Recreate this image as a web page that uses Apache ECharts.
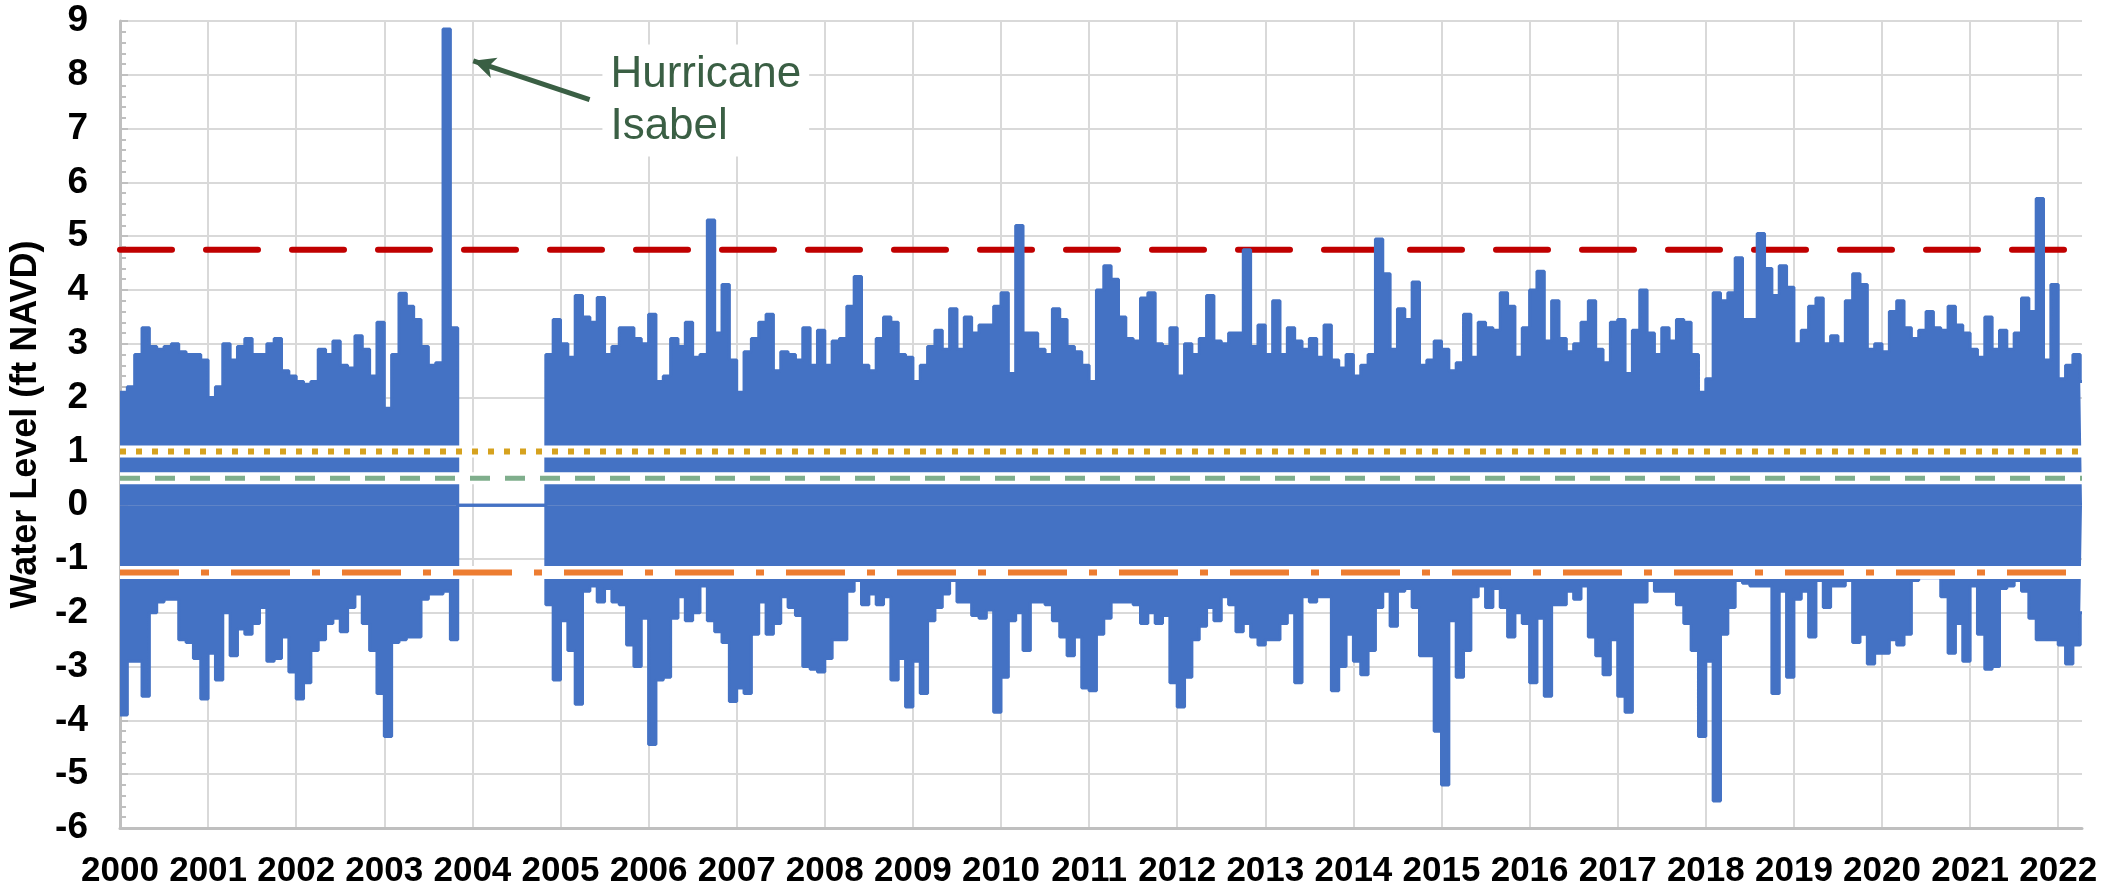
<!DOCTYPE html>
<html>
<head>
<meta charset="utf-8">
<title>Water Level</title>
<script src="https://cdn.jsdelivr.net/npm/echarts@6/dist/echarts.min.js"></script>
<style>
    html, body { margin: 0; padding: 0; background: #fff; }
    #chart { width: 2105px; height: 890px; }
</style>
</head>
<body>
<div id="chart"></div>
<script>
// monthly envelope of the record, Jan 2000 .. Apr 2022 (ft NAVD); 0 = no record (Nov 2003 - Oct 2004)
var startYear = 2000;
var dataEnd = 2022.27;
var yearLabels = [2000, 2001, 2002, 2003, 2004, 2005, 2006, 2007, 2008, 2009, 2010, 2011,
    2012, 2013, 2014, 2015, 2016, 2017, 2018, 2019, 2020, 2021, 2022];

var highLevels = [
    2.1, 2.2, 2.8, 3.3, 2.95, 2.9, 2.95, 3.0, 2.85, 2.8, 2.8, 2.7,      // 2000
    2.0, 2.2, 3.0, 2.7, 2.95, 3.1, 2.8, 2.8, 3.0, 3.1, 2.5, 2.4,        // 2001
    2.3, 2.25, 2.3, 2.9, 2.8, 3.05, 2.6, 2.55, 3.15, 2.9, 2.4, 3.4,     // 2002
    1.8, 2.8, 3.94, 3.7, 3.45, 2.95, 2.6, 2.65, 8.85, 3.3, 0, 0,        // 2003
    0, 0, 0, 0, 0, 0, 0, 0, 0, 0, 2.8, 3.45,                            // 2004
    3.0, 2.75, 3.9, 3.5, 3.4, 3.86, 2.8, 2.95, 3.3, 3.3, 3.1, 3.0,      // 2005
    3.55, 2.3, 2.4, 3.1, 2.95, 3.4, 2.75, 2.8, 5.3, 3.2, 4.1, 2.7,      // 2006
    2.1, 2.85, 3.1, 3.4, 3.55, 2.5, 2.85, 2.8, 2.7, 3.3, 2.6, 3.25,     // 2007
    2.6, 3.05, 3.1, 3.7, 4.25, 2.6, 2.5, 3.1, 3.5, 3.4, 2.8, 2.75,      // 2008
    2.3, 2.6, 2.95, 3.25, 2.9, 3.65, 2.9, 3.5, 3.2, 3.35, 3.35, 3.7,    // 2009
    3.95, 2.45, 5.2, 3.2, 3.2, 2.9, 2.8, 3.65, 3.45, 2.95, 2.85, 2.6,   // 2010
    2.3, 4.0, 4.45, 4.2, 3.5, 3.1, 3.05, 3.85, 3.95, 3.0, 2.95, 3.3,    // 2011
    2.4, 3.0, 2.8, 3.1, 3.9, 3.05, 3.0, 3.2, 3.2, 4.75, 2.95, 3.35,     // 2012
    2.8, 3.8, 2.8, 3.3, 3.05, 2.9, 3.1, 2.75, 3.35, 2.7, 2.55, 2.8,     // 2013
    2.4, 2.6, 2.8, 4.95, 4.3, 2.9, 3.65, 3.45, 4.15, 2.6, 2.7, 3.05,    // 2014
    2.9, 2.5, 2.65, 3.55, 2.75, 3.4, 3.3, 3.25, 3.95, 3.7, 2.75, 3.3,   // 2015
    4.0, 4.35, 3.05, 3.8, 3.1, 2.85, 3.0, 3.4, 3.8, 2.9, 2.65, 3.4,     // 2016
    3.45, 2.45, 3.25, 4.0, 3.2, 2.8, 3.3, 3.05, 3.45, 3.4, 2.8, 2.1,    // 2017
    2.35, 3.95, 3.8, 3.95, 4.6, 3.45, 3.45, 5.05, 4.4, 3.9, 4.45, 4.05, // 2018
    3.0, 3.25, 3.7, 3.85, 3.0, 3.15, 3.0, 3.8, 4.3, 4.1, 2.9, 3.0,      // 2019
    2.85, 3.6, 3.8, 3.3, 3.1, 3.25, 3.6, 3.3, 3.25, 3.7, 3.35, 3.2,     // 2020
    2.9, 2.75, 3.5, 2.9, 3.25, 2.9, 3.2, 3.85, 3.6, 5.7, 2.7, 4.1,      // 2021
    2.35, 2.6, 2.8, 2.3                                                 // 2022
];

var lowLevels = [
    -3.9, -2.9, -2.9, -3.55, -2.0, -1.8, -1.75, -1.75, -2.5, -2.55, -2.85, -3.6,   // 2000
    -2.75, -3.25, -2.0, -2.8, -2.3, -2.4, -2.2, -1.9, -2.9, -2.85, -2.45, -3.1,    // 2001
    -3.6, -3.3, -2.7, -2.5, -2.2, -2.1, -2.35, -1.9, -1.65, -2.2, -2.7, -3.5,      // 2002
    -4.3, -2.55, -2.5, -2.45, -2.45, -1.75, -1.65, -1.65, -1.6, -2.5, 0, 0,        // 2003
    0, 0, 0, 0, 0, 0, 0, 0, 0, 0, -1.85, -3.25,                                    // 2004
    -2.15, -2.7, -3.7, -1.6, -1.5, -1.8, -1.55, -1.8, -1.85, -2.6, -3.0, -2.1,     // 2005
    -4.45, -3.25, -3.2, -2.1, -1.7, -2.15, -2.0, -1.5, -2.15, -2.35, -2.55, -3.65, // 2006
    -3.4, -3.5, -2.4, -1.8, -2.4, -2.2, -1.7, -1.9, -2.05, -3.0, -3.05, -3.1,      // 2007
    -2.85, -2.5, -2.5, -1.6, -1.4, -1.85, -1.65, -1.85, -1.7, -3.25, -2.85, -3.75, // 2008
    -2.9, -3.5, -2.15, -1.9, -1.65, -1.4, -1.8, -1.8, -2.05, -2.1, -1.95, -3.85,   // 2009
    -3.2, -2.15, -2.0, -2.7, -1.8, -1.8, -1.85, -2.15, -2.45, -2.8, -2.45, -3.4,   // 2010
    -3.45, -2.4, -2.1, -1.8, -1.8, -1.8, -1.85, -2.2, -2.0, -2.2, -2.05, -3.3,     // 2011
    -3.75, -3.2, -2.5, -2.25, -1.9, -2.15, -1.7, -1.85, -2.35, -2.2, -2.45, -2.6,  // 2012
    -2.5, -2.5, -2.2, -2.0, -3.3, -1.7, -1.8, -1.7, -1.7, -3.45, -3.0, -2.4,       // 2013
    -2.9, -3.15, -2.7, -1.9, -1.6, -2.25, -1.6, -1.55, -1.9, -2.8, -2.8, -4.2,     // 2014
    -5.2, -2.15, -3.2, -2.7, -1.7, -1.5, -1.9, -1.55, -1.9, -2.45, -2.0, -2.2,     // 2015
    -3.3, -2.1, -3.55, -1.85, -1.85, -1.6, -1.75, -1.5, -2.45, -2.8, -3.15, -2.5,  // 2016
    -3.55, -3.85, -1.8, -1.8, -1.4, -1.6, -1.6, -1.6, -1.85, -2.2, -2.7, -4.3,     // 2017
    -2.9, -5.5, -2.4, -1.9, -1.4, -1.45, -1.5, -1.5, -1.5, -3.5, -1.6, -3.2,       // 2018
    -1.75, -1.6, -2.45, -1.4, -1.9, -1.5, -1.5, -1.4, -2.55, -2.4, -2.95, -2.75,   // 2019
    -2.75, -2.5, -2.6, -2.4, -1.4, -1.35, -1.35, -1.35, -1.7, -2.75, -2.2, -2.9,   // 2020
    -1.5, -2.4, -3.05, -3.0, -1.55, -1.5, -1.4, -1.6, -2.1, -2.5, -2.5, -2.5,      // 2021
    -2.6, -2.95, -2.6, -2.0                                                        // 2022
];

// reference levels (ft NAVD)
var floodLevel = 4.75;
var upperLevel = 1.0;
var midLevel = 0.5;
var lowerLevel = -1.25;

// annotation
var noteText = "Hurricane\nIsabel";
var notePoint = [2005.47, 7.52];
var arrowFrom = [2005.33, 7.54];
var arrowTo = [2004.01, 8.26];

var font = "'Liberation Sans', Arial, sans-serif";
var blue = "#4472C4";

function monthly(values) {
    var pts = values.map(function (v, i) {
        return [startYear + i / 12, v];
    });
    pts.push([dataEnd, values[values.length - 1]]);
    return pts;
}

function flat(v) {
    return [[startYear, v], [dataEnd, v]];
}

function refLine(v, color, width, dash, z, cap) {
    return {
        type: "line", data: flat(v), symbol: "none", silent: true, z: z,
        lineStyle: { color: color, width: width, type: dash, cap: cap || "butt" }
    };
}

var chart = echarts.init(document.getElementById("chart"));
var option = {
    animation: false,
    backgroundColor: "#fff",
    grid: { left: 120, right: 23, top: 21, bottom: 62, outerBoundsMode: "none" },
    xAxis: {
        type: "value", min: startYear, max: dataEnd, interval: 1,
        axisLine: { onZero: false, lineStyle: { color: "#BFBFBF", width: 3 } },
        axisTick: { show: false },
        axisLabel: {
            fontSize: 35, fontWeight: "bold", color: "#000", fontFamily: font, margin: 26,
            formatter: function (v) {
                var r = Math.round(v);
                return (Math.abs(v - r) < 1e-6 && yearLabels.indexOf(r) >= 0) ? String(r) : "";
            }
        },
        splitLine: { show: true, showMaxLine: false, lineStyle: { color: "#D9D9D9", width: 2 } }
    },
    yAxis: {
        type: "value", min: -6, max: 9, interval: 1,
        name: "Water Level (ft NAVD)", nameLocation: "middle", nameGap: 72, nameRotate: 90,
        nameTextStyle: { fontSize: 36, fontWeight: "bold", color: "#000", fontFamily: font },
        axisLine: { show: true, onZero: false, lineStyle: { color: "#BFBFBF", width: 3 } },
        axisTick: { show: true, inside: true, length: 8, lineStyle: { color: "#BFBFBF", width: 2 } },
        minorTick: { show: true, splitNumber: 5, length: 6, lineStyle: { color: "#BFBFBF", width: 2 } },
        axisLabel: { fontSize: 37, fontWeight: "bold", color: "#000", fontFamily: font, margin: 32 },
        splitLine: { show: true, lineStyle: { color: "#D9D9D9", width: 2 } }
    },
    series: [
        refLine(floodLevel, "#C00000", 6, [52, 34], 1, "round"),
        {
            name: "high", type: "line", step: "end", data: monthly(highLevels), symbol: "none", z: 2,
            lineStyle: { color: blue, width: 3 },
            areaStyle: { color: blue, opacity: 1 },
            markLine: {
                silent: true, symbol: ["none", "arrow"], symbolSize: [16, 22],
                label: { show: false },
                lineStyle: { color: "#3A5F44", width: 5, type: "solid" },
                data: [[{ coord: arrowFrom }, { coord: arrowTo }]]
            },
            markPoint: {
                silent: true, symbol: "circle", symbolSize: 1,
                itemStyle: { color: "rgba(0,0,0,0)" },
                label: {
                    show: true, position: "right", distance: 0, formatter: noteText,
                    color: "#3A5F44", fontSize: 44, lineHeight: 52, fontFamily: font,
                    align: "left", backgroundColor: "#fff", padding: [4, 8]
                },
                data: [{ coord: notePoint }]
            }
        },
        {
            name: "low", type: "line", step: "end", data: monthly(lowLevels), symbol: "none", z: 2,
            lineStyle: { color: blue, width: 3 },
            areaStyle: { color: blue, opacity: 1 }
        },
        refLine(upperLevel, "#fff", 12, "solid", 3),
        refLine(midLevel, "#fff", 12, "solid", 3),
        refLine(lowerLevel, "#fff", 13, "solid", 3),
        refLine(upperLevel, "#D6A21E", 6, [6, 10], 4),
        refLine(midLevel, "#7FAE8C", 5, [20, 15], 4),
        refLine(lowerLevel, "#ED7D31", 6, [59, 22, 8, 22], 4)
    ]
};
chart.setOption(option);
</script>
</body>
</html>
